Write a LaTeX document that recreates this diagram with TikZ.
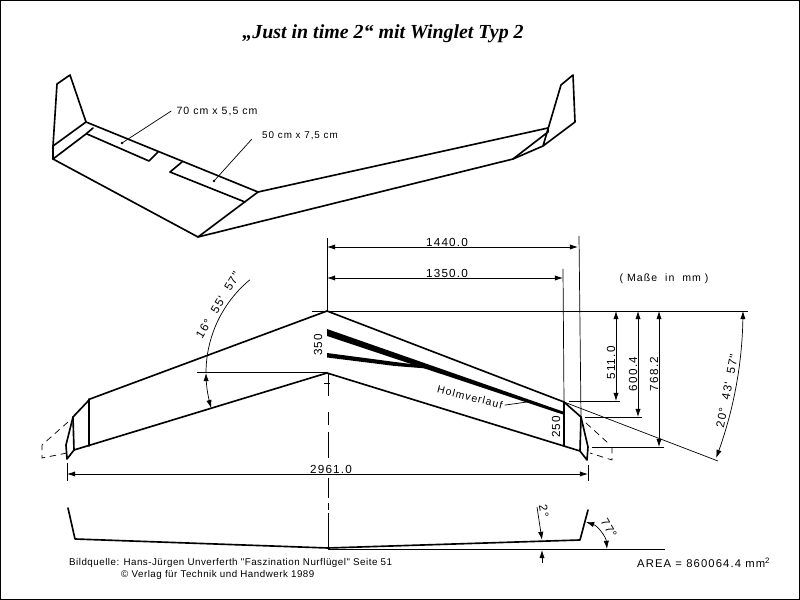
\documentclass[tikz,border=0pt]{standalone}
\usepackage{fontspec}
\usepackage{tikz}
\usetikzlibrary{arrows.meta}
\setmainfont{Liberation Sans}
\newfontfamily\titlefont{Liberation Serif}
\newfontfamily\planfont[LetterSpace=10]{Liberation Sans}
\newfontfamily\notefont[LetterSpace=5]{Liberation Sans}

\tikzset{
 wing/.style={line width=1.4pt,line join=round,line cap=round},
 thinline/.style={line width=0.6pt},
 hiddenline/.style={line width=0.6pt,dash pattern=on 5.5pt off 4pt},
 dimline/.style={line width=0.6pt,<->,>={Latex[length=7pt,width=4.5pt]}},
 dimtext/.style={inner sep=0pt,font=\planfont\fontsize{10}{12}\selectfont},
 smalltext/.style={inner sep=0pt,font=\planfont\fontsize{9}{11}\selectfont},
 notetext/.style={inner sep=0pt,anchor=west,font=\notefont\fontsize{8.35}{10}\selectfont}
}

\begin{document}
\begin{tikzpicture}[x=0.03cm,y=-0.03cm]
 \useasboundingbox (0,0) rectangle (800,600);
 \draw [line width=0.85pt] (0.5,0.5) rectangle (799.5,599.5);
 \node[inner sep=0pt,font=\titlefont\bfseries\itshape\fontsize{17}{20}\selectfont] (title) at (383,34) {„Just in time 2“ mit Winglet Typ 2};

 % top view
 \draw [wing] (53,159) -- (53,146) -- (57,84) -- (70,75) -- (86,122) -- (53,146);
 \draw [wing] (53,159) -- (86,134) -- (93,128);
 \draw [wing] (86,122) -- (258,192) -- (548,128);
 \draw [wing] (87,134) -- (149,161) -- (158,152);
 \draw [wing] (182,162) -- (170,172) -- (245,202);
 \draw [wing] (53,159) -- (198,237) -- (258,192);
 \draw [wing] (198,237) -- (513,159) -- (543,146) -- (575,122) -- (573,75) -- (561,85) -- (543,146);
 \draw [wing] (513,159) -- (548,132) -- (548,128);

 \node[smalltext] (flapa) at (217,111) {70 cm x 5,5 cm};
 \node[smalltext,font=\planfont\fontsize{8.4}{10}\selectfont] (flapb) at (300,136) {50 cm x 7,5 cm};
 \coordinate (dota) at (122,143);
 \coordinate (dotb) at (214,181);
 \draw [thinline] (flapa.west)+(-5,0) -- (dota);
 \draw [thinline] (flapb.west)+(-10,3) -- (dotb);
 \fill (dota) circle (1.1pt);
 \fill (dotb) circle (1.1pt);

 % plan view
 \draw [wing] (327,311) -- (90,399) -- (73,417) -- (66,445) -- (67,459) -- (74,450) -- (327,373);
 \draw [wing] (73,417) -- (74,450);
 \draw [wing] (89,399) -- (89,446);
 \draw [wing] (327,311) -- (564,402) -- (581,417) -- (588,447) -- (587,460) -- (580,451) -- (327,373);
 \draw [wing] (581,417) -- (580,451);
 \draw [wing] (564,402) -- (564,446);
 \draw [hiddenline] (68,422) -- (42,445) -- (42,458) -- (67,453);
 \draw [hiddenline] (586,423) -- (608,443);
 \draw [hiddenline] (612,447) -- (612,460) -- (590,453);

 \fill (327,329) -- (563,411.5) -- (563,414.5) -- (327,336) -- cycle;
 \fill (327,353) -- (395,362) -- (427,366) -- (427,368.5) -- (395,366) -- (327,357.5) -- cycle;

 % centre line
 \draw [thinline] (327,238) -- (327,311);
 \draw [thinline] (324,383) -- (330,383);
 \foreach \a/\b in {373/396,412/425,432/458,478/498,503/510,513/548}
  \draw [thinline] (328,\a) -- (328,\b);

 % reference lines
 \draw [thinline] (312,311) -- (748,311);
 \draw [thinline] (197,372) -- (327,372);
 \draw [thinline] (563,269) -- (564,402);
 \draw [thinline] (579,236) -- (581,417);
 \draw [thinline] (569,401) -- (620,401);
 \draw [thinline] (585,417) -- (642,417);
 \draw [thinline] (592,447) -- (664,447);
 \draw [thinline] (564,402) -- (718,461);
 \draw [thinline] (67,463) -- (67,481);
 \draw [thinline] (588,465) -- (588,481);

 % dimensions
 \draw [dimline] (327,247) -- (578,247);
 \draw [dimline] (327,278) -- (563,278);
 \draw [dimline] (616,311) -- (616,401);
 \draw [dimline] (638,311) -- (638,417);
 \draw [dimline] (659,311) -- (659,447);
 \draw [dimline] (67,474) -- (588,474);
 \node[dimtext] (span) at (447,242) {1440.0};
 \node[dimtext] (aileron) at (447,273) {1350.0};
 \node[dimtext] (sweepa) at (331,469) {2961.0};
 \node[dimtext,rotate=90] (deptha) at (611,363) {511.0};
 \node[dimtext,rotate=90] (depthb) at (633,374) {600.4};
 \node[dimtext,rotate=90] (depthc) at (654,374) {768.2};
 \node[dimtext,rotate=90] (root) at (318,345) {350};
 \node[dimtext,rotate=90] (tip) at (556,427) {250};
 \node[smalltext] (units) at (664,279) {( Maße\ \ in\ \ mm )};

 \node[smalltext,rotate=-14] (spar) at (470,397) {Holmverlauf};
 \coordinate (sparend) at (527,402);
 \draw [thinline] (spar.east)+(2,0) -- (sparend);

 % angles
 \draw [thinline] plot[domain=180:230.4,samples=30] ({327+121*cos(\x)},{373+121*sin(\x)});
 \draw [dimline] plot[domain=180:163.1,samples=12] ({327+121*cos(\x)},{373+121*sin(\x)});
 \draw [dimline] plot[domain=0:20.7,samples=40] ({327+416*cos(\x)},{311+416*sin(\x)});
 \node[dimtext,rotate=59] (anglea) at (218,305) {16°\ \ 55'\ \ 57"};
 \node[dimtext,rotate=79] (angleb) at (727,391) {20°\ \ 43'\ \ 57"};

 % front view
 \draw [wing] (68,508) -- (75,539) -- (328,548) -- (580,540) -- (588,510);
 \draw [thinline] (328,549) -- (665,549);
 \draw [dimline,<-] (542,540) -- (537,507);
 \draw [dimline,<-] (542,550) -- (542,563);
 \draw [dimline] (586,522) .. controls (598,526) and (606,537) .. (607,549);
 \node[dimtext,rotate=-80] (dihedral) at (544,511) {2°};
 \node[dimtext,rotate=-60] (winglet) at (609,528) {77°};

 \node[notetext,font=\planfont\fontsize{9.6}{11}\selectfont] (area) at (637,563) {AREA = 860064.4 mm\textsuperscript{2}};
 \node[notetext] (source) at (69,563) {Bildquelle: Hans-Jürgen Unverferth "Faszination Nurflügel" Seite 51};
 \node[notetext] (verlag) at (121,575) {© Verlag für Technik und Handwerk 1989};
\end{tikzpicture}
\end{document}
